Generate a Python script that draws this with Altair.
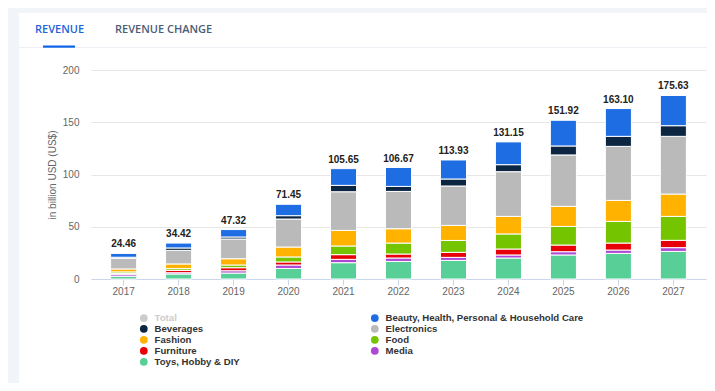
import altair as alt
import pandas as pd

years = ["2017", "2018", "2019", "2020", "2021", "2022", "2023", "2024", "2025", "2026", "2027"]
totals = [24.46, 34.42, 47.32, 71.45, 105.65, 106.67, 113.93, 131.15, 151.92, 163.10, 175.63]

toys = [2.6, 4.8, 5.7, 10.1, 15.6, 16.8, 17.8, 20.1, 23.0, 24.5, 26.4]
media = [1.6, 1.2, 2.2, 3.3, 3.2, 3.3, 2.9, 2.9, 3.1, 3.2, 3.6]
furniture = [1.2, 2.2, 2.9, 2.9, 4.5, 3.8, 4.8, 5.7, 6.4, 6.7, 7.0]
food = [1.4, 1.7, 2.6, 4.8, 8.3, 10.5, 11.4, 14.4, 17.8, 20.7, 22.9]
fashion = [2.8, 4.5, 6.0, 9.5, 14.9, 13.7, 14.4, 16.8, 19.2, 20.1, 21.4]
electronics = [10.1, 13.0, 18.9, 26.8, 37.0, 35.7, 37.7, 42.8, 49.2, 51.7, 55.2]
beverages = [1.1, 2.3, 1.9, 3.2, 6.1, 4.8, 6.7, 6.7, 8.6, 9.6, 10.2]
beauty = [3.66, 4.7, 7.1, 10.9, 16.0, 18.1, 18.2, 21.8, 24.6, 26.6, 28.9]

# stacking order: bottom first
series = [
    ("Toys, Hobby & DIY", toys),
    ("Media", media),
    ("Furniture", furniture),
    ("Food", food),
    ("Fashion", fashion),
    ("Electronics", electronics),
    ("Beverages", beverages),
    ("Beauty, Health, Personal & Household Care", beauty),
]

# legend order (column-major, 2 columns)
legend_domain = ["Total", "Beverages", "Fashion", "Furniture", "Toys, Hobby & DIY",
                 "Beauty, Health, Personal & Household Care", "Electronics", "Food", "Media"]
legend_colors = ["#cccccc", "#0c2541", "#ffb300", "#e80008", "#57cf97",
                 "#1f6de3", "#bababa", "#75c400", "#ad47d6"]

rows = []
for rank, (name, vals) in enumerate(series):
    for y, v in zip(years, vals):
        rows.append({"year": y, "segment": name, "value": v, "rank": rank})
df = pd.DataFrame(rows)
tot_df = pd.DataFrame({"year": years, "total": totals})

W, H = 615, 209
FONT = "Liberation Sans"
BG = "#f1f4f8"
one = alt.Data(values=[{"k": 1}])

xscale = alt.Scale(paddingInner=0.526, paddingOuter=0.357)
yscale = alt.Scale(domain=[0, 200])

left_strip = alt.Chart(one).mark_rect(color=BG).encode(
    x=alt.value(-90), x2=alt.value(-72), y=alt.value(-70), y2=alt.value(420)
)
top_strip = alt.Chart(one).mark_rect(color=BG).encode(
    x=alt.value(-90), x2=alt.value(720), y=alt.value(-70), y2=alt.value(-57)
)
sep = alt.Chart(one).mark_rule(color="#edf0f5", strokeWidth=1).encode(
    x=alt.value(-72), x2=alt.value(720), y=alt.value(-22.5)
)
underline = alt.Chart(one).mark_rect(color="#0f62e8").encode(
    x=alt.value(-48), x2=alt.value(-16), y=alt.value(-24.5), y2=alt.value(-22.3)
)
tab1 = alt.Chart(one).mark_text(
    text="REVENUE", font="Open Sans", fontSize=11, fontWeight=600, color="#1d63d9",
    align="left", baseline="middle"
).encode(x=alt.value(-56), y=alt.value(-40))
tab2 = alt.Chart(one).mark_text(
    text="REVENUE CHANGE", font="Open Sans", fontSize=11, fontWeight=600, color="#4a5d78",
    align="left", baseline="middle"
).encode(x=alt.value(24), y=alt.value(-40))

bars = alt.Chart(df).mark_bar(stroke="white", strokeWidth=1).encode(
    x=alt.X("year:N", scale=xscale, sort=years,
            axis=alt.Axis(title=None, labelAngle=0, labelFont=FONT, labelFontSize=10,
                          labelColor="#666666", tickSize=6, tickColor="#ccd6eb",
                          domainColor="#ccd6eb", labelPadding=1, grid=False)),
    y=alt.Y("value:Q", stack="zero", scale=yscale,
            axis=alt.Axis(title="in billion USD (US$)", titleFont=FONT, titleFontSize=10,
                          titleFontWeight="normal", titleColor="#666666", titleAngle=270,
                          titleX=-39, titleY=H / 2, titleAlign="center", titleBaseline="middle",
                          labelFont=FONT, labelFontSize=10, labelColor="#666666",
                          labelPadding=12, values=[0, 50, 100, 150, 200],
                          domain=False, ticks=False, gridColor="#e6e6e6")),
    color=alt.Color("segment:N",
                    scale=alt.Scale(domain=legend_domain, range=legend_colors),
                    legend=alt.Legend(title=None, orient="none", legendX=48, legendY=243,
                                      columns=2, symbolType="circle", symbolSize=60,
                                      symbolStrokeWidth=0, labelFont=FONT, labelFontSize=9.6,
                                      labelFontWeight="bold",
                                      labelColor={"expr": "datum.value == 'Total' ? '#cccccc' : '#333333'"},
                                      labelOffset=6, rowPadding=0, columnPadding=130,
                                      padding=0, labelLimit=400)),
    order=alt.Order("rank:Q", sort="ascending"),
)

labels = alt.Chart(tot_df).mark_text(
    font=FONT, fontSize=10, fontWeight="bold", color="#222222", baseline="alphabetic", dy=-6
).encode(
    x=alt.X("year:N", sort=years, scale=xscale),
    y=alt.Y("total:Q", scale=yscale),
    text=alt.Text("total:Q", format=".2f"),
)

chart = alt.layer(left_strip, top_strip, sep, underline, tab1, tab2, bars, labels).properties(
    width=W, height=H,
    autosize=alt.AutoSizeParams(type="none"),
    padding={"left": 83, "top": 62, "right": 1, "bottom": 104},
    background="white",
).configure_view(stroke=None)

chart.save("out.html", embed_options={"renderer": "svg", "actions": False})
